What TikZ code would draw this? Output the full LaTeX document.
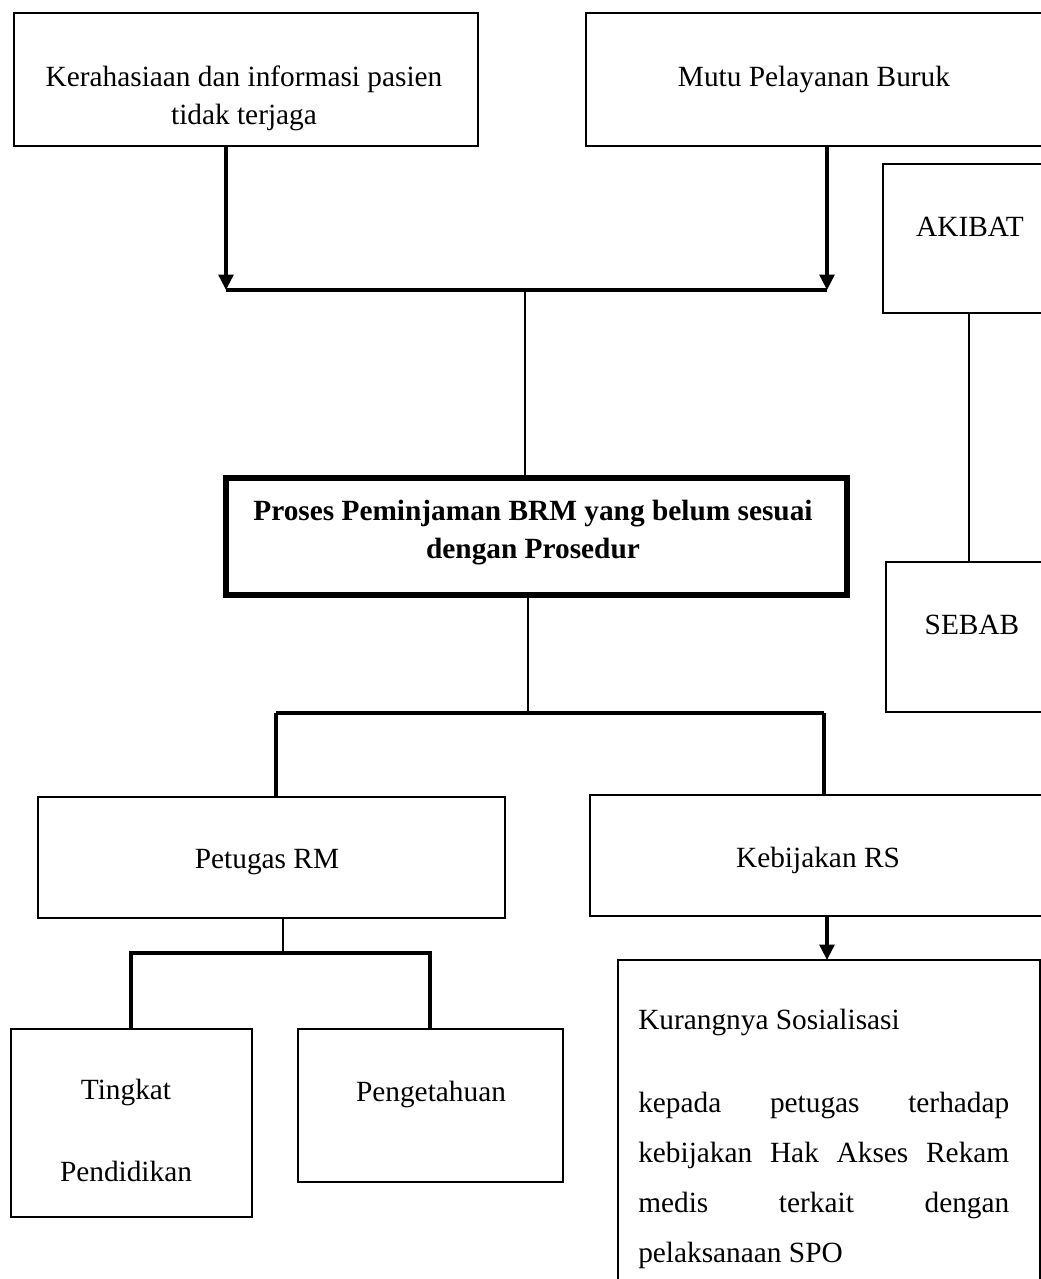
\documentclass[tikz,border=0pt]{standalone}
\usepackage{fontspec}
\setmainfont{Liberation Serif}
\usetikzlibrary{arrows.meta}
\newcommand\pxl[1]{#1*0.75pt}
\begin{document}
\begin{tikzpicture}[x=0.75pt,y=-0.75pt,
  box/.style={draw, line width=1.2pt, inner sep=0pt, outer sep=0pt, anchor=north west},
  txt/.style={inner sep=0pt, anchor=base, align=center, font=\fontsize{22}{28.5}\selectfont},
  thinline/.style={line width=1.1pt},
  barline/.style={line width=3pt},
  legline/.style={line width=2.6pt},
  arrowline/.style={line width=2.6pt, -{Triangle[length=11.5pt,width=11pt]}}]
\useasboundingbox (0,0) rectangle (1041,1279);

% boxes
\node[box, minimum width=\pxl{464}, minimum height=\pxl{133}] (k) at (14,13) {};
\node[box, minimum width=\pxl{460}, minimum height=\pxl{133}] (m) at (586,13) {};
\node[box, minimum width=\pxl{170}, minimum height=\pxl{149}] (ak) at (883,164) {};
\node[box, minimum width=\pxl{170}, minimum height=\pxl{150}] (sb) at (886,562) {};
\node[box, line width=5pt, minimum width=\pxl{621}, minimum height=\pxl{117}] (cen) at (226,478) {};
\node[box, minimum width=\pxl{467}, minimum height=\pxl{121}] (pet) at (38,797) {};
\node[box, minimum width=\pxl{460}, minimum height=\pxl{121}] (keb) at (590,795) {};
\node[box, minimum width=\pxl{422}, minimum height=\pxl{360}] (kur) at (618,960) {};
\node[box, minimum width=\pxl{241}, minimum height=\pxl{188}] (ting) at (11,1029) {};
\node[box, minimum width=\pxl{265}, minimum height=\pxl{153}] (peng) at (298,1029) {};

% texts (multi-line nodes: base anchor = last line)
\node[txt] (kt) at (244,124) {Kerahasiaan dan informasi pasien\\tidak terjaga};
\node[txt] (mt) at (814,86) {Mutu Pelayanan Buruk};
\node[txt] (akt) at (970,236) {AKIBAT};
\node[txt] (sbt) at (972,634) {SEBAB};
\node[txt, font=\fontsize{22}{28.5}\selectfont\bfseries] (cent) at (533,558) {Proses Peminjaman BRM yang belum sesuai\\dengan Prosedur};
\node[txt] (pett) at (267,868) {Petugas RM};
\node[txt] (kebt) at (818,867) {Kebijakan RS};
\node[txt, anchor=base west] (kurt) at (638,1029) {Kurangnya Sosialisasi};
\node[inner sep=0pt, anchor=base west, text width=\pxl{371}, align=justify,
      font=\fontsize{22}{37.5}\selectfont] (kurp) at (638,1112)
  {\hyphenpenalty=10000\tolerance=10000 kepada petugas terhadap\linebreak kebijakan Hak Akses Rekam\linebreak medis terkait dengan\linebreak pelaksanaan SPO};
\node[txt, font=\fontsize{22}{61.5}\selectfont] (tingt) at (126,1181) {Tingkat\\Pendidikan};
\node[txt] (pengt) at (431,1101) {Pengetahuan};

% junction coordinates
\coordinate (jL) at (226,290);
\coordinate (jR) at (827,290);
\coordinate (jM) at (525,290);
\coordinate (tM) at (528,713);
\coordinate (tL) at (276,713);
\coordinate (tR) at (824,713);
\coordinate (pM) at (283,953);
\coordinate (pL) at (131,953);
\coordinate (pR) at (430,953);
\coordinate (kA) at (827,918);
\coordinate (aS) at (969,313);

% top connectors
\draw[arrowline] (k.south -| jL) -- (jL);
\draw[arrowline] (m.south -| jR) -- (jR);
\draw[barline] (jL) -- (jR);
\draw[thinline] (jM) -- (jM |- cen.north);

% akibat - sebab
\draw[thinline] (ak.south -| aS) -- (aS |- sb.north);

% middle tree
\draw[thinline] (cen.south -| tM) -- (tM);
\draw[barline] (tL) -- (tR);
\draw[legline] (tL) -- (tL |- pet.north);
\draw[legline] (tR) -- (tR |- keb.north);

% kebijakan arrow
\draw[arrowline] (keb.south -| kA) -- (kA |- kur.north);

% petugas tree
\draw[thinline] (pet.south -| pM) -- (pM);
\draw[barline] ([xshift=-1.5pt]pL) -- ([xshift=1.5pt]pR);
\draw[legline] (pL) -- (pL |- ting.north);
\draw[legline] (pR) -- (pR |- peng.north);
\end{tikzpicture}
\end{document}
